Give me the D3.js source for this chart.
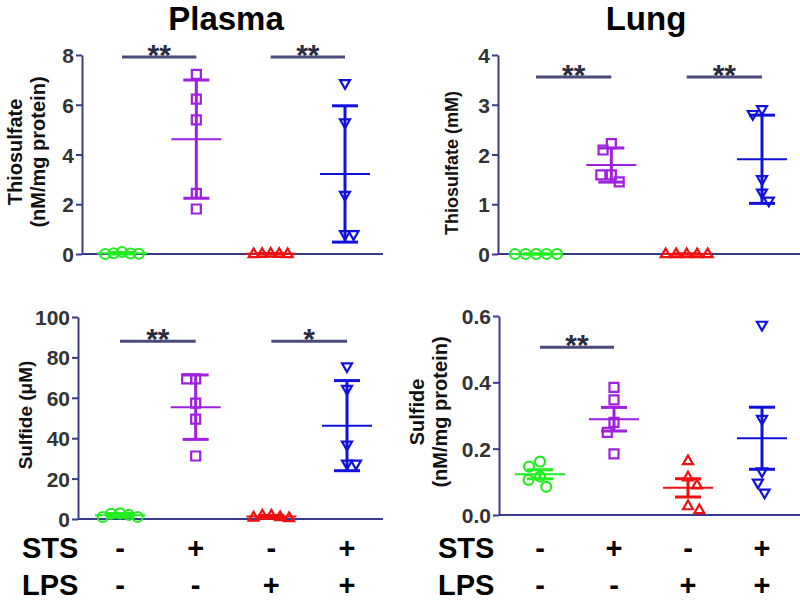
<!DOCTYPE html>
<html><head><meta charset="utf-8">
<script src="https://cdn.jsdelivr.net/npm/d3@7"></script>
<style>
html,body{margin:0;padding:0;background:#fff;}
svg{display:block;font-family:"Liberation Sans",Arial,sans-serif;}
</style></head>
<body><svg id="chart" width="800" height="601"></svg>
<script>
// ---------- data ----------
const groups = ["Vehicle", "STS", "LPS", "LPS+STS"];
const stsSigns = ["-", "+", "-", "+"];
const lpsSigns = ["-", "-", "+", "+"];
const groupColors = ["#22ee22", "#a020e0", "#ee1111", "#1111dd"];
const groupShapes = ["circle", "square", "triangle", "invtriangle"];

// Plasma thiosulfate (nM/mg protein)
const plasmaThioVehicle = [0.08, 0.03, 0.02, 0.01, 0.0];
const plasmaThioSTS = [7.22, 6.23, 5.39, 2.44, 1.81];
const plasmaThioLPS = [0.02, 0.01, 0.01, 0.0, 0.0];
const plasmaThioLPSSTS = [6.86, 5.28, 2.37, 0.79, 0.79];
// Lung thiosulfate (mM)
const lungThioVehicle = [0, 0, 0, 0, 0];
const lungThioSTS = [2.22, 2.09, 1.59, 1.59, 1.45];
const lungThioLPS = [0, 0, 0, 0, 0];
const lungThioLPSSTS = [2.91, 2.81, 1.50, 1.23, 1.07];
// Plasma sulfide (uM)
const plasmaSulfVehicle = [2.8, 2.6, 2.0, 1.0, 1.0];
const plasmaSulfSTS = [69.4, 69.4, 57.4, 49.4, 31.2];
const plasmaSulfLPS = [1.8, 1.8, 1.0, 0.8, 0.5];
const plasmaSulfLPSSTS = [75.5, 64.3, 36.7, 27.3, 27.3];
// Lung sulfide (nM/mg protein)
const lungSulfVehicle = [0.161, 0.146, 0.116, 0.106, 0.085];
const lungSulfSTS = [0.385, 0.347, 0.279, 0.249, 0.184];
const lungSulfLPS = [0.163, 0.114, 0.090, 0.027, 0.015];
const lungSulfLPSSTS = [0.573, 0.289, 0.131, 0.097, 0.067];

// tick values
const plasmaThioTicks = [0, 2, 4, 6, 8];
const lungThioTicks = [0, 1, 2, 3, 4];
const plasmaSulfTicks = [0, 20, 40, 60, 80, 100];
const lungSulfTicks = [0, 0.2, 0.4, 0.6];

// significance: [fromGroup, toGroup, height, label]
const plasmaThioSig = [[0, 1, 7.92, "**"], [2, 3, 7.92, "**"]];
const lungThioSig = [[0, 1, 3.56, "**"], [2, 3, 3.56, "**"]];
const plasmaSulfSig = [[0, 1, 88, "**"], [2, 3, 88, "*"]];
const lungSulfSig = [[0, 1, 0.506, "**"]];

// ---------- layout ----------
const panels = [
  {series:[plasmaThioVehicle, plasmaThioSTS, plasmaThioLPS, plasmaThioLPSSTS], ticks:plasmaThioTicks, fmt:d3.format("d"),
   domain:[0,8], ax:82, xEnd:383, yTop:55, yBot:254, gx:[122,345], err:"SD", sig:plasmaThioSig, sw:8.5,
   title:["Thiosulfate","(nM/mg protein)"], tx:[15,38], ty:152, tfs:20},
  {series:[lungThioVehicle, lungThioSTS, lungThioLPS, lungThioLPSSTS], ticks:lungThioTicks, fmt:d3.format("d"),
   domain:[0,4], ax:498, xEnd:800, yTop:55, yBot:254, gx:[536,762], err:"SD", sig:lungThioSig, sw:10.5,
   title:["Thiosulfate (mM)"], tx:[452], ty:163, tfs:18},
  {series:[plasmaSulfVehicle, plasmaSulfSTS, plasmaSulfLPS, plasmaSulfLPSSTS], ticks:plasmaSulfTicks, fmt:d3.format("d"),
   domain:[0,100], ax:78, xEnd:383, yTop:317, yBot:519, gx:[120,347], err:"SD", sig:plasmaSulfSig, sw:9,
   title:["Sulfide (\u03bcM)"], tx:[25], ty:415, tfs:19},
  {series:[lungSulfVehicle, lungSulfSTS, lungSulfLPS, lungSulfLPSSTS], ticks:lungSulfTicks, fmt:d3.format(".1f"),
   domain:[0,0.6], ax:499, xEnd:800, yTop:316, yBot:515, gx:[540,762], err:"SEM", sig:lungSulfSig, sw:12,
   title:["Sulfide","(nM/mg protein)"], tx:[417,440], ty:412, tfs:20}
];

const svg = d3.select("#chart");
const AXIS = "#3a3a8c", SIGC = "#4a4a7c";

function shapePath(shape) {
  if (shape === "circle") return "M5,0A5,5 0 1,1 -5,0A5,5 0 1,1 5,0Z";
  if (shape === "square") return "M-4.5,-4.5H4.5V4.5H-4.5Z";
  if (shape === "triangle") return "M0,-5.5L5,3.2L-5,3.2Z";
  return "M0,5.5L5,-3.2L-5,-3.2Z";
}

function swarm(vals, y, D) {
  const idx = vals.map((v, i) => i).sort((a, b) => vals[b] - vals[a]);
  const placed = [];
  const out = new Array(vals.length);
  idx.forEach((i, k) => {
    const py = y(vals[i]);
    const cands = [0];
    placed.forEach(p => {
      const dy = Math.abs(p.y - py);
      if (dy < D) { const dx = Math.sqrt(D * D - dy * dy); cands.push(p.x + dx, p.x - dx); }
    });
    cands.sort((a, b) => Math.abs(a) - Math.abs(b) || (k % 2 ? a - b : b - a));
    let best = cands.find(c => placed.every(p => Math.hypot(p.x - c, p.y - py) >= D - 0.01));
    if (best === undefined) best = 0;
    placed.push({x: best, y: py});
    out[i] = best;
  });
  return out;
}

panels.forEach(p => {
  const y = d3.scaleLinear().domain(p.domain).range([p.yBot, p.yTop]);
  const x = d3.scalePoint().domain(groups).range(p.gx);
  const g = svg.append("g");

  // y axis
  const yAxis = d3.axisLeft(y).tickValues(p.ticks).tickFormat(p.fmt).tickSize(6).tickSizeOuter(0);
  const ya = g.append("g").attr("transform", `translate(${p.ax},0)`).call(yAxis);
  ya.attr("font-size", null).attr("font-family", null);
  ya.select(".domain").attr("stroke", AXIS).attr("stroke-width", 2);
  ya.selectAll(".tick line").attr("stroke", AXIS).attr("stroke-width", 2);
  ya.selectAll(".tick text")
    .style("font-size", "21px").style("font-weight", "bold").style("fill", "#333")
    .style("font-family", "'Liberation Sans', Arial, sans-serif")
    .attr("x", -8).attr("dy", "0.36em");
  // x axis line
  g.append("line").attr("x1", p.ax).attr("x2", p.xEnd).attr("y1", p.yBot).attr("y2", p.yBot)
    .attr("stroke", AXIS).attr("stroke-width", 2);

  // y title
  p.title.forEach((t, i) => {
    g.append("text").attr("transform", `translate(${p.tx[i]},${p.ty}) rotate(-90)`)
      .attr("text-anchor", "middle").attr("dy", "0.35em")
      .style("font-size", p.tfs + "px").style("font-weight", "bold").style("fill", "#111").text(t);
  });

  // data
  p.series.forEach((vals, gi) => {
    const cx = x(groups[gi]);
    const col = groupColors[gi];
    const offs = swarm(vals, y, p.sw);
    g.append("g").selectAll("path").data(vals).join("path")
      .attr("d", shapePath(groupShapes[gi]))
      .attr("transform", (v, i) => `translate(${cx + offs[i]},${y(v)})`)
      .attr("fill", "none").attr("stroke", col).attr("stroke-width", 2.2);
    const m = d3.mean(vals);
    let e = d3.deviation(vals) || 0;
    if (p.err === "SEM") e = e / Math.sqrt(vals.length);
    const lo = Math.max(p.domain[0], m - e), hi = m + e;
    g.append("line").attr("x1", cx).attr("x2", cx).attr("y1", y(lo)).attr("y2", y(hi))
      .attr("stroke", col).attr("stroke-width", 3);
    [lo, hi].forEach(v => g.append("line").attr("x1", cx - 13).attr("x2", cx + 13)
      .attr("y1", y(v)).attr("y2", y(v)).attr("stroke", col).attr("stroke-width", 3));
    g.append("line").attr("x1", cx - 25).attr("x2", cx + 25).attr("y1", y(m)).attr("y2", y(m))
      .attr("stroke", col).attr("stroke-width", 2);
  });

  // significance
  p.sig.forEach(([a, b, h, lab]) => {
    const x1 = x(groups[a]), x2 = x(groups[b]);
    g.append("line").attr("x1", x1).attr("x2", x2).attr("y1", y(h)).attr("y2", y(h))
      .attr("stroke", SIGC).attr("stroke-width", 3);
    g.append("text").attr("x", (x1 + x2) / 2).attr("y", y(h) + 8).attr("text-anchor", "middle")
      .style("font-size", "30px").style("font-weight", "bold").style("fill", "#2a2a40").text(lab);
  });

  // STS / LPS rows (bottom panels)
  if (p.yBot > 400) {
    const labX = p.ax < 300 ? 22 : 438;
    [["STS", stsSigns, 558], ["LPS", lpsSigns, 595]].forEach(([name, signs, by]) => {
      g.append("text").attr("x", labX).attr("y", by)
        .style("font-size", "29px").style("font-weight", "bold").style("fill", "#000").text(name);
      g.selectAll(null).data(signs).join("text")
        .attr("x", (s, i) => x(groups[i])).attr("y", by).attr("text-anchor", "middle")
        .style("font-size", "29px").style("font-weight", "bold").style("fill", "#000").text(s => s);
    });
  }
});

// titles
svg.append("text").attr("x", 226).attr("y", 30).attr("text-anchor", "middle")
  .style("font-size", "33px").style("font-weight", "bold").style("fill", "#000").text("Plasma");
svg.append("text").attr("x", 646).attr("y", 30).attr("text-anchor", "middle")
  .style("font-size", "33px").style("font-weight", "bold").style("fill", "#000").text("Lung");
</script></body></html>
